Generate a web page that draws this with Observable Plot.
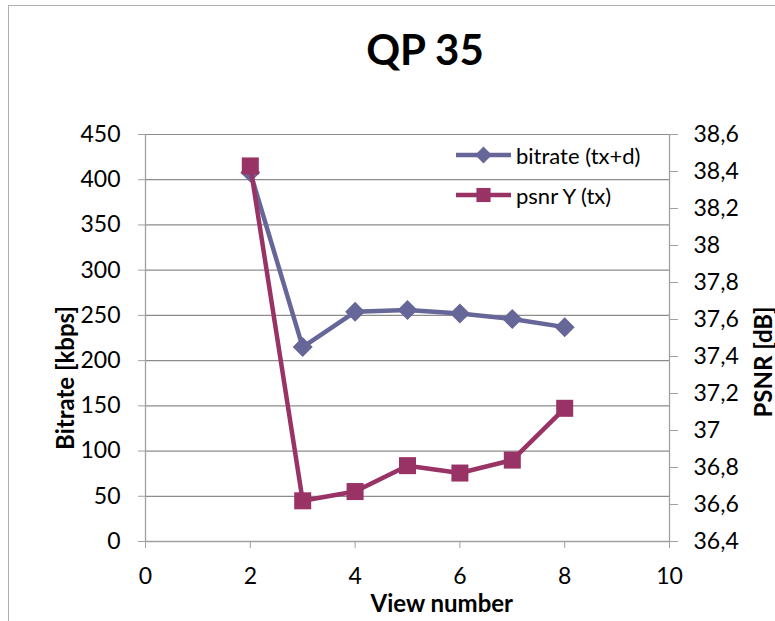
<!DOCTYPE html>
<html>
<head>
<meta charset="utf-8">
<script src="https://cdn.jsdelivr.net/npm/d3@7"></script>
<script src="https://cdn.jsdelivr.net/npm/@observablehq/plot@0.6"></script>
<style>
  html, body { margin: 0; padding: 0; background: #fff; overflow: hidden; }
  #wrap { position: relative; width: 775px; height: 621px; overflow: hidden; font-family: Lato, "Open Sans", sans-serif; background: #fff; }
  #frame { position: absolute; left: 8px; top: 5px; width: 900px; height: 800px; border: 1px solid #b0b0b0; box-sizing: border-box; z-index: 5; pointer-events: none; }
  #title { position: absolute; left: 0; top: 0; width: 775px; height: 100px; }
  #title span { position: absolute; left: 425px; top: 49px; transform: translate(-50%, -50%); font-weight: bold; font-size: 42px; white-space: nowrap; }
  #chart { position: absolute; left: 0; top: 100px; }
  .lbl { position: absolute; font-weight: bold; font-size: 24px; line-height: 1; white-space: nowrap; transform-origin: center center; }
  #legend { position: absolute; left: 456px; top: 0; }
  .leg { position: absolute; left: 0; display: flex; align-items: center; white-space: nowrap; font-size: 22px; }
  .leg svg { margin-right: 4px; }
</style>
</head>
<body>
<div id="wrap">
  <div id="frame"></div>
  <div id="title"><span>QP 35</span></div>
  <div id="chart"></div>
  <div class="lbl" id="ylab">Bitrate [kbps]</div>
  <div class="lbl" id="y2lab">PSNR [dB]</div>
  <div class="lbl" id="xlab">View number</div>
  <div id="legend"></div>
</div>
<script>
// ---- data ----
const views = [2, 3, 4, 5, 6, 7, 8];
const bitrate = [408, 215, 254, 256, 252, 246, 237];
const psnr = [38.43, 36.62, 36.67, 36.81, 36.77, 36.84, 37.12];
const seriesNames = ["bitrate (tx+d)", "psnr Y (tx)"];
const seriesColors = ["#666699", "#993366"];
const xTicks = [0, 2, 4, 6, 8, 10];
const yTicks = [0, 50, 100, 150, 200, 250, 300, 350, 400, 450];
const y2Ticks = [36.4, 36.6, 36.8, 37.0, 37.2, 37.4, 37.6, 37.8, 38.0, 38.2, 38.4, 38.6];

// secondary axis mapped onto the primary scale
const yMin = 0, yMax = 450, y2Min = 36.4, y2Max = 38.6;
const toLeft = p => (p - y2Min) / (y2Max - y2Min) * (yMax - yMin) + yMin;
const fromLeft = v => (v - yMin) / (yMax - yMin) * (y2Max - y2Min) + y2Min;
const fmt2 = v => String(Math.round(v * 10) / 10).replace(".", ",");

const bitData = views.map((v, i) => ({x: v, y: bitrate[i]}));
const psnrData = views.map((v, i) => ({x: v, y: toLeft(psnr[i])}));

const axisGrey = "#a0a0a0";
const chart = Plot.plot({
  width: 775,
  height: 521,
  marginTop: 34,
  marginBottom: 80,
  marginLeft: 145,
  marginRight: 106,
  x: {domain: [0, 10]},
  y: {domain: [yMin, yMax]},
  style: {fontFamily: "Lato, 'Open Sans', sans-serif", fontSize: "23px", color: "#000", background: "transparent", overflow: "visible"},
  marks: [
    Plot.gridY(yTicks, {stroke: "#8c8c8c", strokeOpacity: 1, strokeWidth: 1.2}),
    Plot.ruleX([0], {stroke: axisGrey, strokeWidth: 1.3}),
    Plot.ruleX([10], {stroke: axisGrey, strokeWidth: 1.3}),
    Plot.ruleY([0], {stroke: axisGrey, strokeWidth: 1.3}),
    Plot.axisY(yTicks, {anchor: "left", tickSize: 7, tickPadding: 18, label: null, stroke: axisGrey, fill: "#000", tickFormat: d => String(d)}),
    Plot.axisY(y2Ticks.map(toLeft), {anchor: "right", tickSize: 8, tickPadding: 16, label: null, stroke: axisGrey, fill: "#000", tickFormat: d => fmt2(fromLeft(d))}),
    Plot.axisX(xTicks, {anchor: "bottom", tickSize: 7, tickPadding: 19, label: null, stroke: axisGrey, fill: "#000", tickFormat: d => String(d)}),
    Plot.line(bitData, {x: "x", y: "y", stroke: seriesColors[0], strokeWidth: 4.5, strokeLinejoin: "round"}),
    Plot.dot(bitData, {x: "x", y: "y", symbol: "diamond2", r: 9, fill: seriesColors[0], stroke: "none"}),
    Plot.line(psnrData, {x: "x", y: "y", stroke: seriesColors[1], strokeWidth: 4.5, strokeLinejoin: "round"}),
    Plot.dot(psnrData, {x: "x", y: "y", symbol: "square", r: 9.6, fill: seriesColors[1], stroke: "none"})
  ]
});
document.getElementById("chart").appendChild(chart);

// axis titles
function place(id, cx, cy, rot) {
  const el = document.getElementById(id);
  const w = el.offsetWidth, h = el.offsetHeight;
  el.style.left = (cx - w / 2) + "px";
  el.style.top = (cy - h / 2) + "px";
  if (rot) el.style.transform = "rotate(" + rot + "deg)";
}
place("ylab", 65, 378, -90);
place("y2lab", 762, 362, -90);
place("xlab", 442, 603, 0);

// legend
const legend = document.getElementById("legend");
const legY = [155, 195];
seriesNames.forEach((name, i) => {
  const row = document.createElement("div");
  row.className = "leg";
  row.style.top = (legY[i] - 13) + "px";
  row.style.height = "26px";
  const svg = d3.create("svg").attr("width", 56).attr("height", 26);
  svg.append("line").attr("x1", 0).attr("x2", 55).attr("y1", 13).attr("y2", 13)
    .attr("stroke", seriesColors[i]).attr("stroke-width", 4.5);
  svg.append("path").attr("transform", "translate(27.5,13)")
    .attr("d", d3.symbol(i === 0 ? d3.symbolDiamond2 : d3.symbolSquare, i === 0 ? 180 : 200)())
    .attr("fill", seriesColors[i]);
  row.appendChild(svg.node());
  const t = document.createElement("span");
  t.textContent = name;
  row.appendChild(t);
  legend.appendChild(row);
});
</script>
</body>
</html>
